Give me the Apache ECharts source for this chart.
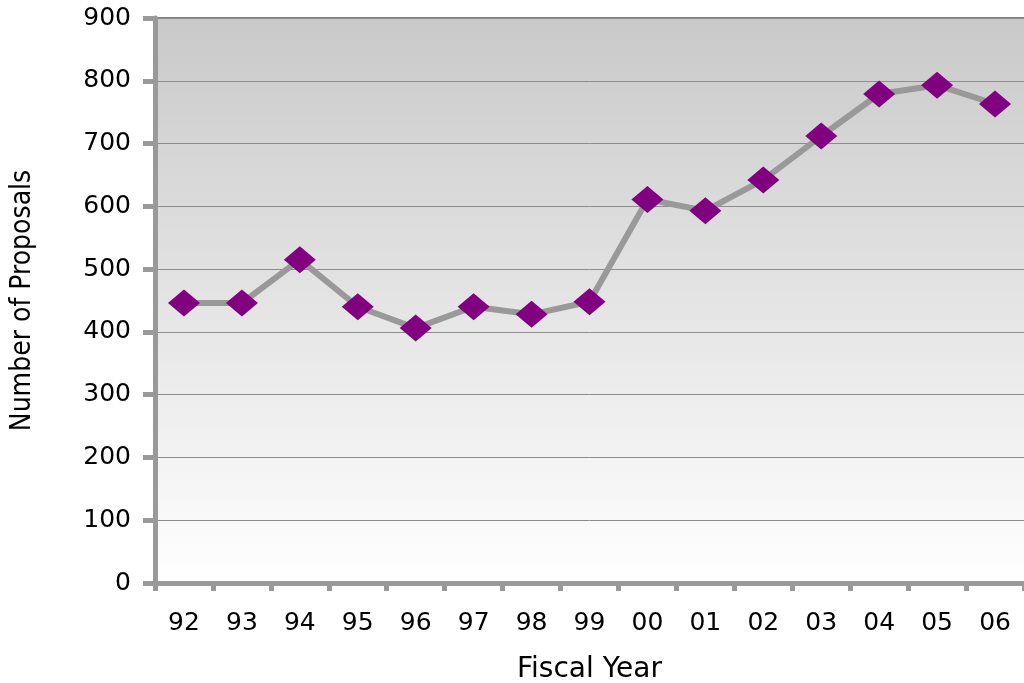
<!DOCTYPE html>
<html><head><meta charset="utf-8">
<script src="https://cdn.jsdelivr.net/npm/echarts@6/dist/echarts.min.js"></script>
<style>html,body{margin:0;padding:0;background:#fff}#c{width:1024px;height:683px}</style>
</head><body><div id="c"></div>
<script>
const categories = ['92','93','94','95','96','97','98','99','00','01','02','03','04','05','06'];
const proposals = [446, 446, 515, 440, 406, 440, 428, 448, 611, 593, 642, 712, 779, 793, 763];
const yTicks = [0, 100, 200, 300, 400, 500, 600, 700, 800, 900];

const chart = echarts.init(document.getElementById('c'));
const font = "'DejaVu Sans', sans-serif";
chart.setOption({
  animation: false,
  grid: { left: 155, right: 0, top: 18, bottom: 100, outerBoundsMode: 'none', containLabel: false,
    show: true, borderWidth: 0,
    backgroundColor: new echarts.graphic.LinearGradient(0, 0, 0, 1, [
      { offset: 0, color: '#c9c9c9' }, { offset: 1, color: '#ffffff' }
    ])
  },
  xAxis: {
    type: 'category', data: categories, boundaryGap: true,
    name: 'Fiscal Year', nameLocation: 'middle', nameGap: 73,
    nameTextStyle: { fontFamily: font, fontSize: 28, color: '#000' },
    axisLine: { lineStyle: { color: '#999', width: 5 } },
    axisTick: { show: true, interval: 0, length: 8, lineStyle: { color: '#999', width: 5 } },
    axisLabel: { fontFamily: font, fontSize: 25, color: '#000', margin: 28 },
    splitLine: { show: false }
  },
  yAxis: {
    type: 'value', min: yTicks[0], max: yTicks[yTicks.length - 1], interval: 100,
    name: 'Number of Proposals', nameLocation: 'middle', nameGap: 118, nameRotate: 90,
    nameTextStyle: { fontFamily: "'Liberation Sans Narrow', 'DejaVu Sans Condensed', sans-serif", fontSize: 28, color: '#000' },
    axisLine: { show: true, lineStyle: { color: '#999', width: 5 } },
    axisTick: { show: true, length: 12, lineStyle: { color: '#999', width: 5 } },
    axisLabel: { fontFamily: font, fontSize: 25, color: '#000', margin: 24 },
    splitLine: { show: true, lineStyle: { color: '#8c8c8c', width: 1 } }
  },
  graphic: [{ type: 'line', shape: { x1: 157, y1: 18, x2: 1024, y2: 18 }, style: { stroke: '#808080', lineWidth: 2 } }],
  series: [{
    type: 'line', data: proposals,
    lineStyle: { color: '#999', width: 6 },
    symbol: 'diamond', symbolSize: [32, 27],
    itemStyle: { color: '#800080' }
  }]
});
</script></body></html>
